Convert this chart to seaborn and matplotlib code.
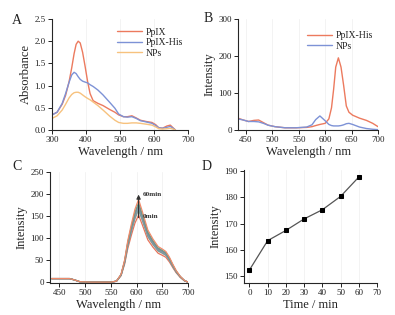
import numpy as np
import pandas as pd
import matplotlib
matplotlib.use("Agg")
import matplotlib.pyplot as plt
import seaborn as sns

# ---------------- data ----------------
# Panel A: absorbance
wl_a = [300, 315, 330, 340, 350, 358, 365, 371, 377, 383, 390, 397, 405, 412, 421, 435, 450, 470, 485, 496, 510, 522, 535, 548, 560, 578, 594, 605, 614, 625, 638, 648, 656, 663]
abs_ppix = [0.34, 0.40, 0.58, 0.78, 1.08, 1.40, 1.72, 1.93, 2.00, 1.96, 1.75, 1.45, 1.08, 0.82, 0.66, 0.60, 0.55, 0.46, 0.40, 0.34, 0.30, 0.30, 0.32, 0.27, 0.22, 0.19, 0.17, 0.12, 0.05, 0.04, 0.09, 0.11, 0.05, 0.00]
abs_ppixhis = [0.34, 0.40, 0.60, 0.82, 1.07, 1.24, 1.30, 1.27, 1.20, 1.14, 1.10, 1.08, 1.06, 1.02, 0.98, 0.90, 0.79, 0.62, 0.49, 0.36, 0.30, 0.29, 0.30, 0.26, 0.21, 0.18, 0.15, 0.10, 0.05, 0.04, 0.06, 0.08, 0.04, 0.00]
abs_nps = [0.26, 0.32, 0.45, 0.58, 0.72, 0.80, 0.84, 0.85, 0.85, 0.83, 0.79, 0.75, 0.71, 0.68, 0.63, 0.55, 0.45, 0.31, 0.22, 0.17, 0.15, 0.15, 0.16, 0.16, 0.15, 0.13, 0.11, 0.07, 0.03, 0.02, 0.03, 0.04, 0.02, 0.00]

# Panel B: fluorescence
wl_b = [435, 445, 455, 465, 474, 483, 492, 505, 524, 545, 565, 575, 582, 590, 600, 607, 612, 616, 620, 625, 630, 635, 640, 645, 652, 665, 678, 690, 700]
int_ppixhis = [32, 27, 23, 26, 27, 20, 13, 9, 6, 6, 7, 9, 12, 15, 18, 30, 60, 110, 170, 195, 170, 120, 65, 48, 40, 32, 26, 18, 9]
int_nps = [30, 27, 23, 23, 22, 18, 13, 9, 6, 6, 8, 14, 28, 38, 25, 15, 12, 11, 11, 11, 12, 14, 17, 18, 15, 8, 4, 2, 1]

# Panel C: time-dependent spectra (normalised shape x peak intensity)
wl_c = [435, 455, 470, 480, 490, 510, 530, 550, 561, 570, 577, 583, 590, 597, 604, 611, 622, 632, 642, 650, 657, 664, 671, 677, 685, 693, 700]
shape_c = [0.05, 0.05, 0.05, 0.03, 0.005, 0.0, 0.0, 0.0, 0.012, 0.095, 0.27, 0.50, 0.70, 0.88, 1.00, 0.86, 0.63, 0.52, 0.43, 0.40, 0.37, 0.30, 0.21, 0.14, 0.07, 0.02, 0.0]
times = [0, 10, 20, 30, 40, 50, 60]
peaks = [152.3, 163.5, 167.4, 171.8, 175.3, 180.4, 187.8]
colors_c = ["#E8735A", "#9A9A9A", "#6FA58C", "#7F93C9", "#8A8A8A", "#5F9C8C", "#F08A6A"]

# ---------------- style ----------------
sns.set_theme(style="ticks")
plt.rcParams["font.family"] = ["Liberation Serif", "DejaVu Serif"]
plt.rcParams["axes.linewidth"] = 0.8
plt.rcParams["xtick.major.size"] = 3
plt.rcParams["ytick.major.size"] = 3
plt.rcParams["xtick.major.width"] = 0.7
plt.rcParams["ytick.major.width"] = 0.7
plt.rcParams["xtick.labelsize"] = 6.5
plt.rcParams["ytick.labelsize"] = 6.5
plt.rcParams["xtick.color"] = "#222222"
plt.rcParams["ytick.color"] = "#222222"

RED = "#EC7A5E"
BLUE = "#7D92D6"
YEL = "#F7C27E"

W, H = 395, 315
fig = plt.figure(figsize=(W / 100, H / 100), dpi=100)

def box(l, t, r, b):
    return [l / W, 1 - b / H, (r - l) / W, (b - t) / H]

axA = fig.add_axes(box(52, 19, 188, 130))
axB = fig.add_axes(box(238, 19, 378, 130))
axC = fig.add_axes(box(50, 172, 188, 283))
axD = fig.add_axes(box(244, 170, 377, 283))

for ax in (axA, axB, axC, axD):
    sns.despine(ax=ax)
    ax.tick_params(pad=1.5)
    ax.grid(axis="x", color="#f1f1f1", lw=0.6)
    ax.set_axisbelow(True)

lab_fs = 9

def labels(ax, xl, yl):
    ax.set_xlabel(xl, fontsize=lab_fs, labelpad=1, color="#222222")
    ax.set_ylabel(yl, fontsize=lab_fs, labelpad=2, color="#222222")

# Panel A
dfA = pd.DataFrame({"Wavelength": wl_a * 3,
                    "Absorbance": abs_ppix + abs_ppixhis + abs_nps,
                    "Series": ["PpIX"] * len(wl_a) + ["PpIX-His"] * len(wl_a) + ["NPs"] * len(wl_a)})
sns.lineplot(data=dfA, x="Wavelength", y="Absorbance", hue="Series",
             palette={"PpIX": RED, "PpIX-His": BLUE, "NPs": YEL}, lw=1.0, ax=axA)
axA.set_xlim(300, 700)
axA.set_ylim(0, 2.5)
axA.set_xticks([300, 400, 500, 600, 700])
axA.set_yticks([0, 0.5, 1.0, 1.5, 2.0, 2.5])
axA.set_yticklabels(["0.0", "0.5", "1.0", "1.5", "2.0", "2.5"])
labels(axA, "Wavelength / nm", "Absorbance")
axA.legend(title=None, frameon=False, prop={"size": 7}, loc="upper right",
           bbox_to_anchor=(1.03, 1.0), handlelength=2.6, handletextpad=0.4, labelspacing=0.15)

# Panel B
dfB = pd.DataFrame({"Wavelength": wl_b * 2,
                    "Intensity": int_ppixhis + int_nps,
                    "Series": ["PpIX-His"] * len(wl_b) + ["NPs"] * len(wl_b)})
sns.lineplot(data=dfB, x="Wavelength", y="Intensity", hue="Series",
             palette={"PpIX-His": RED, "NPs": BLUE}, lw=1.0, ax=axB)
axB.set_xlim(435, 700)
axB.set_ylim(0, 300)
axB.set_xticks([450, 500, 550, 600, 650, 700])
axB.set_yticks([0, 100, 200, 300])
labels(axB, "Wavelength / nm", "Intensity")
axB.legend(title=None, frameon=False, prop={"size": 7}, loc="upper right",
           bbox_to_anchor=(1.03, 0.97), handlelength=2.6, handletextpad=0.4, labelspacing=0.15)

# Panel C
rows = []
for t, p in zip(times, peaks):
    for w, s in zip(wl_c, shape_c):
        rows.append({"Wavelength": w, "Intensity": s * p if w >= 490 else s * 160, "Time": t})
dfC = pd.DataFrame(rows)
sns.lineplot(data=dfC, x="Wavelength", y="Intensity", hue="Time",
             palette=dict(zip(times, colors_c)), lw=0.9, ax=axC, legend=False)
axC.set_xlim(432, 700)
axC.set_ylim(-2, 250)
axC.set_xticks([450, 500, 550, 600, 650, 700])
axC.set_yticks([0, 50, 100, 150, 200, 250])
labels(axC, "Wavelength / nm", "Intensity")
axC.annotate("", xy=(604, 205), xytext=(604, 140),
             arrowprops=dict(arrowstyle="-|>", color="#333333", lw=0.8, mutation_scale=6))
axC.text(612, 199, "60min", fontsize=5.2, fontweight="bold", color="#333333", va="center")
axC.text(612, 150, "0min", fontsize=5.2, fontweight="bold", color="#333333", va="center")

# Panel D
dfD = pd.DataFrame({"Time": times, "Intensity": peaks})
sns.lineplot(data=dfD, x="Time", y="Intensity", color="#555555", lw=0.9,
             marker="s", markersize=3, markerfacecolor="black", markeredgecolor="black", ax=axD)
axD.set_xlim(-3, 70)
axD.set_ylim(147.3, 190.5)
axD.set_xticks([0, 10, 20, 30, 40, 50, 60, 70])
axD.set_yticks([150, 160, 170, 180, 190])
labels(axD, "Time / min", "Intensity")

# panel letters
for letter, (x, y) in zip("ABCD", [(12, 20), (204, 18), (12, 167), (202, 166)]):
    fig.text(x / W, 1 - y / H, letter, fontsize=10, ha="left", va="center", color="#222222")

fig.savefig("out.png", dpi=100)
